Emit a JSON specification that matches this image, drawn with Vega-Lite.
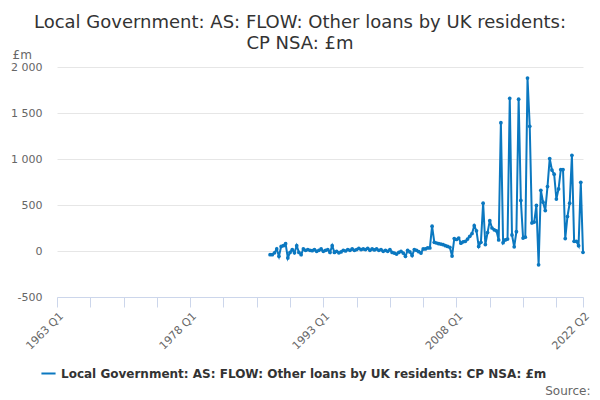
{
  "$schema": "https://vega.github.io/schema/vega-lite/v6.json",
  "width": 526,
  "height": 230,
  "autosize": {"type": "none"},
  "padding": {"left": 57, "top": 67, "right": 17, "bottom": 103},
  "background": "white",
  "config": {"view": {"stroke": null}, "font": "DejaVu Sans"},
  "title": {
    "text": ["Local Government: AS: FLOW: Other loans by UK residents:", "CP NSA: £m"],
    "anchor": "middle",
    "frame": "group",
    "dx": -20,
    "dy": 22,
    "fontSize": 18,
    "fontWeight": "normal",
    "color": "#333333",
    "lineHeight": 21,
    "offset": 17
  },
  "data": {
    "values": [
      {"t": 1987.0, "v": -40}, {"t": 1987.25, "v": -40}, {"t": 1987.5, "v": -20}, {"t": 1987.75, "v": 22},
      {"t": 1988.0, "v": -58}, {"t": 1988.25, "v": 50}, {"t": 1988.5, "v": 58}, {"t": 1988.75, "v": 80},
      {"t": 1989.0, "v": -75}, {"t": 1989.25, "v": -15}, {"t": 1989.5, "v": 15}, {"t": 1989.75, "v": -20},
      {"t": 1990.0, "v": 58}, {"t": 1990.25, "v": -15}, {"t": 1990.5, "v": -40}, {"t": 1990.75, "v": 22},
      {"t": 1991.0, "v": 7}, {"t": 1991.25, "v": 15}, {"t": 1991.5, "v": 7}, {"t": 1991.75, "v": 4},
      {"t": 1992.0, "v": 15}, {"t": 1992.25, "v": -4}, {"t": 1992.5, "v": 7}, {"t": 1992.75, "v": 22},
      {"t": 1993.0, "v": -4}, {"t": 1993.25, "v": 7}, {"t": 1993.5, "v": 15}, {"t": 1993.75, "v": -15},
      {"t": 1994.0, "v": 58}, {"t": 1994.25, "v": -15}, {"t": 1994.5, "v": -4}, {"t": 1994.75, "v": -20},
      {"t": 1995.0, "v": -10}, {"t": 1995.25, "v": 7}, {"t": 1995.5, "v": 0}, {"t": 1995.75, "v": 15},
      {"t": 1996.0, "v": 7}, {"t": 1996.25, "v": 22}, {"t": 1996.5, "v": 7}, {"t": 1996.75, "v": 15},
      {"t": 1997.0, "v": 29}, {"t": 1997.25, "v": 15}, {"t": 1997.5, "v": 22}, {"t": 1997.75, "v": 15},
      {"t": 1998.0, "v": 29}, {"t": 1998.25, "v": 7}, {"t": 1998.5, "v": 22}, {"t": 1998.75, "v": 11},
      {"t": 1999.0, "v": 22}, {"t": 1999.25, "v": 7}, {"t": 1999.5, "v": 15}, {"t": 1999.75, "v": -4},
      {"t": 2000.0, "v": 7}, {"t": 2000.25, "v": -4}, {"t": 2000.5, "v": 15}, {"t": 2000.75, "v": -15},
      {"t": 2001.0, "v": -22}, {"t": 2001.25, "v": -33}, {"t": 2001.5, "v": -15}, {"t": 2001.75, "v": -4},
      {"t": 2002.0, "v": -22}, {"t": 2002.25, "v": -58}, {"t": 2002.5, "v": 7}, {"t": 2002.75, "v": -10},
      {"t": 2003.0, "v": -50}, {"t": 2003.25, "v": 15}, {"t": 2003.5, "v": 7}, {"t": 2003.75, "v": -7},
      {"t": 2004.0, "v": -22}, {"t": 2004.25, "v": 22}, {"t": 2004.5, "v": 22}, {"t": 2004.75, "v": 33},
      {"t": 2005.0, "v": 33}, {"t": 2005.25, "v": 270}, {"t": 2005.5, "v": 95}, {"t": 2005.75, "v": 87},
      {"t": 2006.0, "v": 80}, {"t": 2006.25, "v": 75}, {"t": 2006.5, "v": 68}, {"t": 2006.75, "v": 58},
      {"t": 2007.0, "v": 50}, {"t": 2007.25, "v": 40}, {"t": 2007.5, "v": -55}, {"t": 2007.75, "v": 135},
      {"t": 2008.0, "v": 125}, {"t": 2008.25, "v": 140}, {"t": 2008.5, "v": 85}, {"t": 2008.75, "v": 100},
      {"t": 2009.0, "v": 105}, {"t": 2009.25, "v": 130}, {"t": 2009.5, "v": 160}, {"t": 2009.75, "v": 190},
      {"t": 2010.0, "v": 275}, {"t": 2010.25, "v": 220}, {"t": 2010.5, "v": 50}, {"t": 2010.75, "v": 95},
      {"t": 2011.0, "v": 520}, {"t": 2011.25, "v": 70}, {"t": 2011.5, "v": 200}, {"t": 2011.75, "v": 330},
      {"t": 2012.0, "v": 250}, {"t": 2012.25, "v": 230}, {"t": 2012.5, "v": 220}, {"t": 2012.75, "v": 120},
      {"t": 2013.0, "v": 1395}, {"t": 2013.25, "v": 90}, {"t": 2013.5, "v": 120}, {"t": 2013.75, "v": 130},
      {"t": 2014.0, "v": 1660}, {"t": 2014.25, "v": 175}, {"t": 2014.5, "v": 45}, {"t": 2014.75, "v": 210},
      {"t": 2015.0, "v": 1650}, {"t": 2015.25, "v": 550}, {"t": 2015.5, "v": 140}, {"t": 2015.75, "v": 150},
      {"t": 2016.0, "v": 1880}, {"t": 2016.25, "v": 1355}, {"t": 2016.5, "v": 305}, {"t": 2016.75, "v": 315},
      {"t": 2017.0, "v": 495}, {"t": 2017.25, "v": -150}, {"t": 2017.5, "v": 660}, {"t": 2017.75, "v": 530},
      {"t": 2018.0, "v": 440}, {"t": 2018.25, "v": 700}, {"t": 2018.5, "v": 1005}, {"t": 2018.75, "v": 880},
      {"t": 2019.0, "v": 835}, {"t": 2019.25, "v": 565}, {"t": 2019.5, "v": 675}, {"t": 2019.75, "v": 885},
      {"t": 2020.0, "v": 885}, {"t": 2020.25, "v": 135}, {"t": 2020.5, "v": 375}, {"t": 2020.75, "v": 520},
      {"t": 2021.0, "v": 1040}, {"t": 2021.25, "v": 105}, {"t": 2021.5, "v": 105}, {"t": 2021.75, "v": 58},
      {"t": 2022.0, "v": 746}, {"t": 2022.25, "v": -14}
    ]
  },
  "mark": {"type": "line", "strokeWidth": 2, "point": {"size": 14, "filled": true}},
  "encoding": {
    "x": {
      "field": "t",
      "type": "quantitative",
      "scale": {"domain": [1963, 2022.25], "nice": false, "zero": false},
      "axis": {
        "values": [1963, 1966.75, 1970.5, 1974.25, 1978, 1981.75, 1985.5, 1989.25, 1993, 1996.75, 2000.5, 2004.25, 2008, 2011.75, 2015.5, 2019.25, 2022.25],
        "labelExpr": "indexof([1963, 1978, 1993, 2008, 2022.25], datum.value) >= 0 ? floor(datum.value) + ' Q' + (round((datum.value - floor(datum.value)) * 4) + 1) : ''",
        "labelAngle": -45,
        "labelAlign": "right",
        "labelBaseline": "top",
        "labelPadding": 3,
        "labelFontSize": 11,
        "labelColor": "#666666",
        "labelOverlap": false,
        "labelFlush": false,
        "grid": false,
        "tickSize": 10,
        "tickColor": "#ccd6eb",
        "domainColor": "#ccd6eb",
        "title": "Source:",
        "titleFontSize": 12,
        "titleFontWeight": "normal",
        "titleColor": "#666666",
        "titleAlign": "right",
        "titleBaseline": "alphabetic",
        "titleAnchor": null,
        "titleX": 533,
        "titleY": 97
      }
    },
    "y": {
      "field": "v",
      "type": "quantitative",
      "scale": {"domain": [-500, 2000], "nice": false},
      "axis": {
        "values": [-500, 0, 500, 1000, 1500, 2000],
        "labelExpr": "(datum.value < 0 ? '-' : '') + replace(format(abs(datum.value), ','), ',', ' ')",
        "labelFontSize": 11,
        "labelColor": "#666666",
        "labelPadding": 15,
        "domain": false,
        "ticks": false,
        "grid": true,
        "gridColor": "#e6e6e6",
        "title": "£m",
        "titleAngle": 0,
        "titleAlign": "left",
        "titleBaseline": "alphabetic",
        "titleAnchor": null,
        "titleX": -45,
        "titleY": -9,
        "titleFontSize": 12,
        "titleFontWeight": "normal",
        "titleColor": "#666666"
      }
    },
    "color": {
      "datum": "Local Government: AS: FLOW: Other loans by UK residents: CP NSA: £m",
      "type": "nominal",
      "scale": {"range": ["#0b78c0"]},
      "legend": {
        "title": null,
        "orient": "none",
        "legendX": -17,
        "legendY": 298,
        "symbolType": "stroke",
        "symbolStrokeWidth": 2,
        "symbolSize": 200,
        "labelFontSize": 12,
        "labelFontWeight": "bold",
        "labelColor": "#333333",
        "labelLimit": 700
      }
    }
  }
}
